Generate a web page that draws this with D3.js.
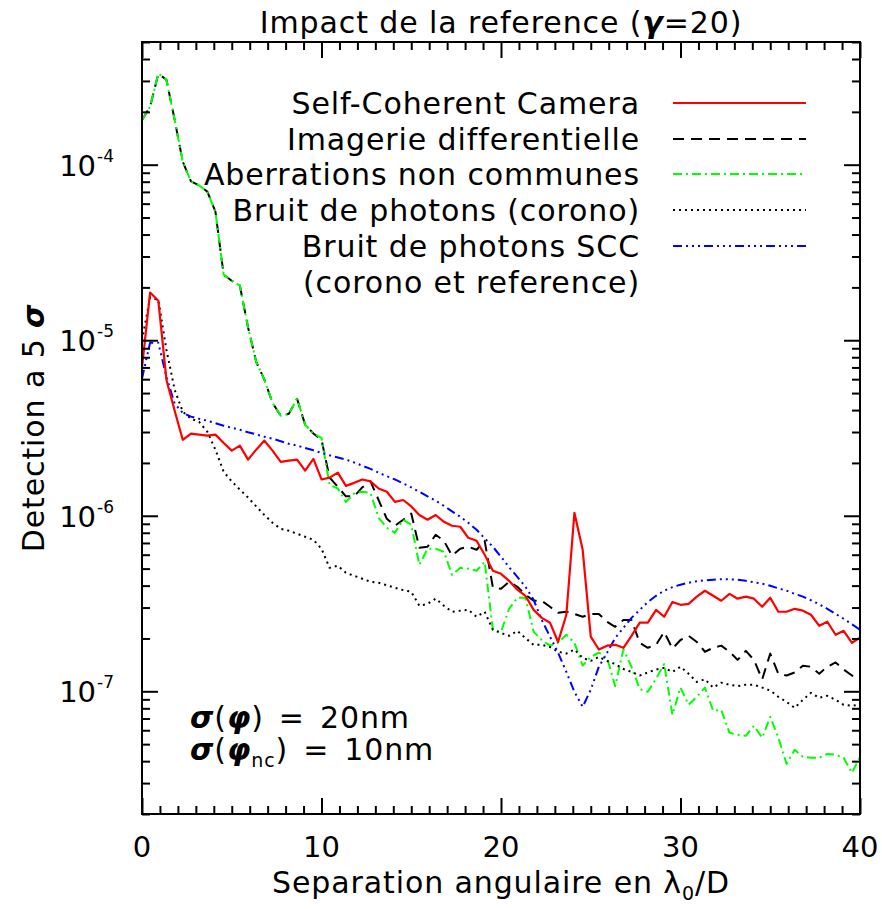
<!DOCTYPE html>
<html><head><meta charset="utf-8">
<script src="https://cdn.jsdelivr.net/npm/d3@7"></script>
<style>
body{margin:0;background:#fff}
text{font-family:"DejaVu Sans",sans-serif;fill:#000}
.ls{letter-spacing:0.9px}
</style>
</head><body><svg id="c" width="882" height="909"></svg>
<script>
// separation in lambda0/D (89 samples)
const sep = [0,0.45,0.91,1.36,1.82,2.27,2.73,3.18,3.64,4.09,
 4.55,5.00,5.45,5.91,6.36,6.82,7.27,7.73,8.18,8.64,
 9.09,9.55,10.00,10.45,10.91,11.36,11.82,12.27,12.73,13.18,
 13.64,14.09,14.55,15.00,15.45,15.91,16.36,16.82,17.27,17.73,
 18.18,18.64,19.09,19.55,20.00,20.45,20.91,21.36,21.82,22.27,
 22.73,23.18,23.64,24.09,24.55,25.00,25.45,25.91,26.36,26.82,
 27.27,27.73,28.18,28.64,29.09,29.55,30.00,30.45,30.91,31.36,
 31.82,32.27,32.73,33.18,33.64,34.09,34.55,35.00,35.45,35.91,
 36.36,36.82,37.27,37.73,38.18,38.64,39.09,39.55,40.00];
// Self-Coherent Camera
const scc = [6.97e-6,1.87e-5,1.68e-5,5.96e-6,3.97e-6,2.71e-6,2.94e-6,2.90e-6,2.86e-6,2.90e-6,
 2.60e-6,2.35e-6,2.51e-6,2.09e-6,2.38e-6,2.68e-6,2.35e-6,2.03e-6,2.06e-6,2.09e-6,
 1.81e-6,2.11e-6,1.61e-6,1.65e-6,1.76e-6,1.48e-6,1.54e-6,1.61e-6,1.57e-6,1.43e-6,
 1.37e-6,1.20e-6,1.23e-6,1.13e-6,1.01e-6,9.49e-7,1.01e-6,9.24e-7,8.77e-7,8.66e-7,
 7.49e-7,7.20e-7,6.00e-7,4.86e-7,4.67e-7,4.26e-7,3.79e-7,3.50e-7,2.91e-7,2.62e-7,
 2.46e-7,1.91e-7,2.73e-7,1.04e-6,6.40e-7,2.05e-7,1.73e-7,1.82e-7,1.84e-7,1.77e-7,
 2.07e-7,2.46e-7,2.46e-7,2.91e-7,2.66e-7,3.23e-7,3.11e-7,3.15e-7,3.46e-7,3.74e-7,
 3.50e-7,3.28e-7,3.59e-7,3.37e-7,3.46e-7,3.37e-7,3.03e-7,3.41e-7,2.84e-7,2.84e-7,
 2.95e-7,2.88e-7,2.73e-7,2.36e-7,2.49e-7,2.10e-7,2.21e-7,1.89e-7,2.02e-7];
// Imagerie differentielle
const diff = [1.80e-4,2.14e-4,3.30e-4,3.05e-4,1.80e-4,1.04e-4,8.03e-5,7.62e-5,7.02e-5,5.40e-5,
 2.36e-5,2.18e-5,2.05e-5,1.18e-5,7.54e-6,5.96e-6,4.40e-6,3.71e-6,3.81e-6,4.64e-6,
 3.30e-6,2.94e-6,2.71e-6,1.65e-6,1.46e-6,1.29e-6,1.29e-6,1.45e-6,1.57e-6,1.23e-6,
 9.61e-7,8.77e-7,9.49e-7,1.03e-6,6.57e-7,6.66e-7,7.79e-7,7.20e-7,5.92e-7,6.49e-7,
 6.66e-7,6.40e-7,7.20e-7,3.89e-7,3.84e-7,4.21e-7,3.94e-7,3.55e-7,3.28e-7,3.28e-7,
 3.03e-7,2.80e-7,2.84e-7,2.76e-7,2.66e-7,2.76e-7,2.76e-7,2.49e-7,2.33e-7,2.55e-7,
 2.55e-7,1.89e-7,1.77e-7,1.84e-7,2.18e-7,1.75e-7,1.96e-7,2.07e-7,1.91e-7,1.68e-7,
 1.77e-7,1.82e-7,1.68e-7,1.51e-7,1.70e-7,1.51e-7,1.17e-7,1.64e-7,1.26e-7,1.23e-7,
 1.28e-7,1.40e-7,1.38e-7,1.26e-7,1.38e-7,1.46e-7,1.33e-7,1.23e-7,1.17e-7];
// Aberrations non communes
const ncpa = [1.80e-4,2.14e-4,3.30e-4,3.05e-4,1.80e-4,1.04e-4,8.03e-5,7.62e-5,7.02e-5,5.40e-5,
 2.36e-5,2.18e-5,2.05e-5,1.18e-5,7.54e-6,5.96e-6,4.40e-6,3.71e-6,3.81e-6,4.64e-6,
 3.30e-6,2.94e-6,2.78e-6,1.50e-6,1.43e-6,1.20e-6,1.34e-6,1.37e-6,1.35e-6,9.74e-7,
 8.55e-7,8.00e-7,9.49e-7,8.89e-7,5.26e-7,6.49e-7,6.49e-7,6.24e-7,4.61e-7,5.05e-7,
 4.99e-7,4.86e-7,5.47e-7,2.24e-7,2.18e-7,2.95e-7,3.41e-7,3.41e-7,2.18e-7,1.96e-7,
 1.82e-7,1.89e-7,2.10e-7,1.89e-7,1.40e-7,1.57e-7,1.66e-7,1.55e-7,1.07e-7,1.73e-7,
 1.38e-7,1.03e-7,9.93e-8,1.18e-7,1.43e-7,7.35e-8,1.05e-7,8.38e-8,9.30e-8,1.05e-7,
 7.74e-8,7.84e-8,5.80e-8,5.65e-8,5.58e-8,6.36e-8,5.44e-8,7.16e-8,5.44e-8,3.86e-8,
 4.64e-8,4.24e-8,4.18e-8,4.18e-8,4.40e-8,4.35e-8,4.18e-8,3.43e-8,4.24e-8];
// Bruit de photons (corono)
const photon = [1.00e-5,1.75e-5,1.70e-5,8.83e-6,5.22e-6,3.92e-6,3.57e-6,3.43e-6,3.01e-6,2.38e-6,
 1.78e-6,1.57e-6,1.41e-6,1.27e-6,1.13e-6,1.01e-6,9.12e-7,8.43e-7,8.21e-7,7.90e-7,
 7.59e-7,7.30e-7,6.49e-7,5.05e-7,5.19e-7,4.73e-7,4.55e-7,4.38e-7,4.21e-7,4.15e-7,
 4.02e-7,3.89e-7,3.77e-7,3.69e-7,3.07e-7,3.15e-7,3.37e-7,3.07e-7,2.84e-7,2.88e-7,
 2.91e-7,2.66e-7,2.84e-7,2.24e-7,2.15e-7,2.07e-7,2.21e-7,2.01e-7,1.84e-7,1.84e-7,
 1.79e-7,1.68e-7,1.64e-7,1.73e-7,1.55e-7,1.49e-7,1.57e-7,1.49e-7,1.43e-7,1.34e-7,
 1.29e-7,1.23e-7,1.28e-7,1.33e-7,1.36e-7,1.29e-7,1.38e-7,1.26e-7,1.13e-7,1.17e-7,
 1.05e-7,1.12e-7,1.09e-7,1.07e-7,1.09e-7,1.09e-7,1.05e-7,1.01e-7,9.30e-8,8.71e-8,
 8.05e-8,8.94e-8,9.80e-8,9.18e-8,9.43e-8,8.94e-8,8.38e-8,8.27e-8,8.38e-8];
// Bruit de photons SCC (corono et reference)
const photonScc = [6.04e-6,9.68e-6,9.68e-6,6.19e-6,4.35e-6,3.86e-6,3.67e-6,3.57e-6,3.48e-6,3.37e-6,
 3.26e-6,3.17e-6,3.09e-6,2.99e-6,2.91e-6,2.82e-6,2.75e-6,2.66e-6,2.57e-6,2.51e-6,
 2.43e-6,2.36e-6,2.28e-6,2.21e-6,2.15e-6,2.09e-6,2.01e-6,1.93e-6,1.85e-6,1.76e-6,
 1.68e-6,1.61e-6,1.53e-6,1.45e-6,1.37e-6,1.29e-6,1.22e-6,1.14e-6,1.06e-6,9.87e-7,
 9.12e-7,8.32e-7,7.44e-7,6.66e-7,5.84e-7,5.09e-7,4.49e-7,3.94e-7,3.32e-7,2.55e-7,
 2.05e-7,1.66e-7,1.29e-7,9.93e-8,8.16e-8,1.02e-7,1.38e-7,1.66e-7,2.01e-7,2.30e-7,
 2.62e-7,2.91e-7,3.23e-7,3.50e-7,3.74e-7,3.92e-7,4.05e-7,4.15e-7,4.24e-7,4.29e-7,
 4.32e-7,4.35e-7,4.35e-7,4.32e-7,4.26e-7,4.18e-7,4.10e-7,3.99e-7,3.86e-7,3.74e-7,
 3.59e-7,3.46e-7,3.30e-7,3.13e-7,2.95e-7,2.76e-7,2.59e-7,2.41e-7,2.24e-7];

const legendLabels = ["Self-Coherent Camera","Imagerie differentielle","Aberrations non communes","Bruit de photons (corono)","Bruit de photons SCC"];
const legendExtra = "(corono et reference)";
const xTickValues = [0,10,20,30,40];
const yTickExponents = [-7,-6,-5,-4];

const svg = d3.select("#c");
const M = {l:142, r:860, t:42, b:814};
const x = d3.scaleLinear().domain([0,40]).range([M.l, M.r]);
const y = d3.scaleLog().domain([2e-8,5e-4]).range([M.b, M.t]);

const st = {
  scc:{color:"#ff0000", dash:null, w:2.2},
  diff:{color:"#000000", dash:"11,7", w:2},
  ncpa:{color:"#00ff00", dash:"9,4,2,4", w:2},
  photon:{color:"#000000", dash:"2,4", w:2},
  photonScc:{color:"#0000ff", dash:"9,4,2,4,2,4,2,4", w:2}
};
const drawOrder = [[diff,st.diff],[ncpa,st.ncpa],[photon,st.photon],[photonScc,st.photonScc],[scc,st.scc]];

svg.append("clipPath").attr("id","clip").append("rect")
  .attr("x",M.l).attr("y",M.t).attr("width",M.r-M.l).attr("height",M.b-M.t);

const line = d3.line().x(d=>x(d[0])).y(d=>y(d[1]));
const g = svg.append("g").attr("clip-path","url(#clip)");
drawOrder.forEach(([vals,s])=>{
  const pts = sep.map((v,i)=>[v,vals[i]]).filter(p=>p[1]!=null);
  g.append("path").datum(pts).attr("d",line)
   .attr("fill","none").attr("stroke",s.color).attr("stroke-width",s.w)
   .attr("stroke-dasharray",s.dash).attr("stroke-linejoin","round");
});

// axes with inward ticks
const xMinor = d3.range(0,41,1).filter(v=>v%10!==0);
const yMinor = [];
for (let e=-8;e<=-4;e++) for (let k=2;k<=9;k++){const v=k*Math.pow(10,e); if(v>=2e-8*0.999 && v<=5e-4*1.001) yMinor.push(v);}
const yMajor = yTickExponents.map(e=>Math.pow(10,e));

function addAxis(gen, tr){
  const a = svg.append("g").attr("transform",tr).call(gen);
  a.select(".domain").remove();
  a.selectAll(".tick line").attr("stroke","#000").attr("stroke-width",2);
  a.selectAll(".tick text").remove();
}
addAxis(d3.axisBottom(x).tickValues(xTickValues).tickSize(-16), `translate(0,${M.b})`);
addAxis(d3.axisBottom(x).tickValues(xMinor).tickSize(-8), `translate(0,${M.b})`);
addAxis(d3.axisTop(x).tickValues(xTickValues).tickSize(-16), `translate(0,${M.t})`);
addAxis(d3.axisTop(x).tickValues(xMinor).tickSize(-8), `translate(0,${M.t})`);
addAxis(d3.axisLeft(y).tickValues(yMajor).tickSize(-16), `translate(${M.l},0)`);
addAxis(d3.axisLeft(y).tickValues(yMinor).tickSize(-8), `translate(${M.l},0)`);
addAxis(d3.axisRight(y).tickValues(yMajor).tickSize(-16), `translate(${M.r},0)`);
addAxis(d3.axisRight(y).tickValues(yMinor).tickSize(-8), `translate(${M.r},0)`);

svg.append("rect").attr("x",M.l).attr("y",M.t).attr("width",M.r-M.l).attr("height",M.b-M.t)
  .attr("fill","none").attr("stroke","#000").attr("stroke-width",2);

// tick labels
xTickValues.forEach(v=>{
  svg.append("text").attr("x",x(v)).attr("y",857).attr("text-anchor","middle")
    .attr("font-size",29).text(v);
});
yTickExponents.forEach(e=>{
  const t = svg.append("text").attr("x",114).attr("y",y(Math.pow(10,e))+11)
    .attr("text-anchor","end").attr("font-size",29);
  t.append("tspan").text("10");
  t.append("tspan").attr("dx",1).attr("dy",-14).attr("font-size",17).text("-"+(-e));
});

// title
const tt = svg.append("text").attr("class","ls").attr("x",501).attr("y",33).attr("text-anchor","middle").attr("font-size",30);
tt.append("tspan").text("Impact de la reference (");
tt.append("tspan").attr("font-style","italic").attr("font-weight","bold").text("\u03b3");
tt.append("tspan").text("=20)");

// x label
const xl = svg.append("text").attr("class","ls").attr("x",501).attr("y",893).attr("text-anchor","middle").attr("font-size",30);
xl.append("tspan").text("Separation angulaire en \u03bb");
xl.append("tspan").attr("dy",7).attr("font-size",19).text("0");
xl.append("tspan").attr("dy",-7).text("/D");

// y label
const yl = svg.append("text").attr("class","ls").attr("transform","translate(44,428) rotate(-90)")
  .attr("text-anchor","middle").attr("font-size",30);
yl.append("tspan").text("Detection a 5 ");
yl.append("tspan").attr("font-style","italic").attr("font-weight","bold").text("\u03c3");

// legend
const legY = [103,139,174,210,246];
const legStyles = [st.scc, st.diff, st.ncpa, st.photon, st.photonScc];
legendLabels.forEach((lab,i)=>{
  svg.append("text").attr("class","ls").attr("x",640).attr("y",legY[i]+11).attr("text-anchor","end")
    .attr("font-size",30).text(lab);
  const s = legStyles[i];
  svg.append("line").attr("x1",673).attr("x2",806).attr("y1",legY[i]).attr("y2",legY[i])
    .attr("stroke",s.color).attr("stroke-width",s.w).attr("stroke-dasharray",s.dash);
});
svg.append("text").attr("class","ls").attr("x",640).attr("y",282+11).attr("text-anchor","end")
  .attr("font-size",30).text(legendExtra);

// annotation
function annot(yPos, sub, val){
  const a = svg.append("text").attr("class","ls").attr("x",190).attr("y",yPos).attr("font-size",30);
  a.append("tspan").attr("font-style","italic").attr("font-weight","bold").text("\u03c3");
  a.append("tspan").text("(");
  a.append("tspan").attr("font-style","italic").attr("font-weight","bold").text("\u03c6");
  if (sub) {
    a.append("tspan").attr("dy",7).attr("font-size",19).text(sub);
    a.append("tspan").attr("dy",-7).text(")");
  } else {
    a.append("tspan").text(")");
  }
  a.append("tspan").attr("dx",15).text("=");
  a.append("tspan").attr("dx",15).text(val);
}
annot(728, null, "20nm");
annot(760, "nc", "10nm");
</script></body></html>
